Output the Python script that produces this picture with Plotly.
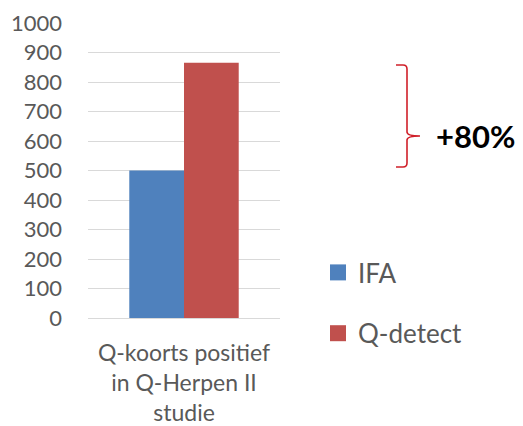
import plotly.graph_objects as go

categories = ["Q-koorts positief<br>in Q-Herpen II<br>studie"]
series_names = ["IFA", "Q-detect"]
ifa_values = [500]
qdetect_values = [865]
colors = ["#4F81BD", "#C0504D"]
annotation_text = "+80%"

# page body has an 8px margin, so work in page pixels and shift by 8
OFF = 8
W, H = 523 - OFF, 426 - OFF
L, R, T, B = 88 - OFF, 280 - OFF, 23 - OFF, 318 - OFF
pw, ph = R - L, B - T

def px(x):
    return (x - OFF - L) / pw

def py(y):
    return (B - (y - OFF)) / ph

fig = go.Figure()
for name, vals, col, grp in [(series_names[0], ifa_values, colors[0], "a"),
                             (series_names[1], qdetect_values, colors[1], "b")]:
    fig.add_trace(go.Bar(x=categories, y=vals, name=name, showlegend=False,
                         marker=dict(color=col, line=dict(width=0)), legendgroup=grp))
    fig.add_trace(go.Scatter(x=[None], y=[None], name=name, mode="markers", legendgroup=grp,
                             marker=dict(symbol="square", size=16, color=col)))

font = "Lato, 'Open Sans', sans-serif"
fig.update_layout(
    width=W, height=H,
    margin=dict(l=L, r=W - R, t=T, b=H - B, pad=0, autoexpand=False),
    paper_bgcolor="white", plot_bgcolor="white",
    barmode="group", bargap=0.43, bargroupgap=0,
    font=dict(family=font, color="#595959", size=20),
    showlegend=True,
    legend=dict(x=px(318), y=py(249), xanchor="left", yanchor="top",
                font=dict(size=26, color="#595959"), tracegroupgap=24,
                itemwidth=30, bgcolor="rgba(0,0,0,0)"),
    xaxis=dict(showgrid=False, showline=False, ticks="", automargin=False,
               ticklabelstandoff=19, tickfont=dict(size=23, color="#595959")),
    yaxis=dict(range=[0, 1000], dtick=100, showgrid=True, gridcolor="#D9D9D9", gridwidth=1,
               zeroline=True, zerolinecolor="#D9D9D9", zerolinewidth=1, automargin=False,
               ticks="", ticklabelstandoff=25, tickfont=dict(size=22, color="#595959")),
)

# bracket
x0, xv, xt = px(396), px(407), px(420)
yt, ym, yb = py(65), py(136), py(167)
c = px(403)
dy = 4 / ph
path = (f"M {x0},{yt} L {c},{yt} Q {xv},{yt} {xv},{yt-dy} "
        f"L {xv},{ym+dy} Q {xv},{ym} {xt},{ym} Q {xv},{ym} {xv},{ym-dy} "
        f"L {xv},{yb+dy} Q {xv},{yb} {c},{yb} L {x0},{yb}")
fig.add_shape(type="path", path=path, xref="paper", yref="paper",
              line=dict(color="#D0202A", width=1.6))

fig.add_annotation(x=px(434), y=py(136), xref="paper", yref="paper", text=f"<b>{annotation_text}</b>",
                   showarrow=False, xanchor="left", yanchor="middle",
                   font=dict(size=31, color="black", family=font))

fig.write_html("out.html")
